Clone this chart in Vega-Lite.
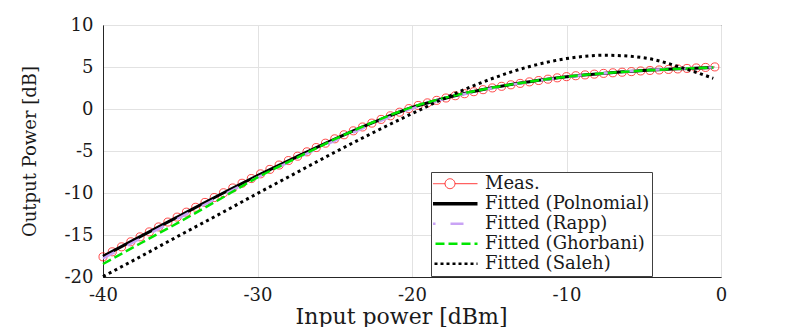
{
  "$schema": "https://vega.github.io/schema/vega-lite/v6.json",
  "width": 618,
  "height": 252,
  "autosize": {"type": "none"},
  "padding": {"left": 103, "top": 25, "right": 76, "bottom": 50},
  "background": "white",
  "config": {
    "font": "DejaVu Serif",
    "view": {"stroke": "#262626", "strokeWidth": 1},
    "axis": {
      "labelFont": "DejaVu Serif",
      "labelFontSize": 18,
      "labelColor": "#1a1a1a",
      "labelFlush": false,
      "titleFont": "DejaVu Serif",
      "titleFontWeight": "normal",
      "titleColor": "#1a1a1a",
      "grid": true,
      "gridColor": "#e2e2e2",
      "gridWidth": 1,
      "domainColor": "#262626",
      "tickColor": "#262626",
      "ticks": false,
      "labelExpr": "'' + datum.value"
    }
  },
  "datasets": {
    "meas": [
      {"series": "Meas.", "x": -40.0, "y": -17.60},
      {"series": "Meas.", "x": -39.4, "y": -17.00},
      {"series": "Meas.", "x": -38.8, "y": -16.41},
      {"series": "Meas.", "x": -38.2, "y": -15.81},
      {"series": "Meas.", "x": -37.6, "y": -15.22},
      {"series": "Meas.", "x": -37.0, "y": -14.63},
      {"series": "Meas.", "x": -36.4, "y": -14.04},
      {"series": "Meas.", "x": -35.8, "y": -13.46},
      {"series": "Meas.", "x": -35.2, "y": -12.87},
      {"series": "Meas.", "x": -34.6, "y": -12.28},
      {"series": "Meas.", "x": -34.0, "y": -11.70},
      {"series": "Meas.", "x": -33.4, "y": -11.12},
      {"series": "Meas.", "x": -32.8, "y": -10.54},
      {"series": "Meas.", "x": -32.2, "y": -9.97},
      {"series": "Meas.", "x": -31.6, "y": -9.40},
      {"series": "Meas.", "x": -31.0, "y": -8.84},
      {"series": "Meas.", "x": -30.4, "y": -8.28},
      {"series": "Meas.", "x": -29.8, "y": -7.72},
      {"series": "Meas.", "x": -29.2, "y": -7.19},
      {"series": "Meas.", "x": -28.6, "y": -6.67},
      {"series": "Meas.", "x": -28.0, "y": -6.14},
      {"series": "Meas.", "x": -27.4, "y": -5.62},
      {"series": "Meas.", "x": -26.8, "y": -5.10},
      {"series": "Meas.", "x": -26.2, "y": -4.59},
      {"series": "Meas.", "x": -25.6, "y": -4.07},
      {"series": "Meas.", "x": -25.0, "y": -3.55},
      {"series": "Meas.", "x": -24.4, "y": -3.07},
      {"series": "Meas.", "x": -23.8, "y": -2.60},
      {"series": "Meas.", "x": -23.2, "y": -2.14},
      {"series": "Meas.", "x": -22.6, "y": -1.68},
      {"series": "Meas.", "x": -22.0, "y": -1.24},
      {"series": "Meas.", "x": -21.4, "y": -0.81},
      {"series": "Meas.", "x": -20.8, "y": -0.38},
      {"series": "Meas.", "x": -20.2, "y": 0.05},
      {"series": "Meas.", "x": -19.6, "y": 0.42},
      {"series": "Meas.", "x": -19.0, "y": 0.73},
      {"series": "Meas.", "x": -18.4, "y": 1.03},
      {"series": "Meas.", "x": -17.8, "y": 1.31},
      {"series": "Meas.", "x": -17.2, "y": 1.58},
      {"series": "Meas.", "x": -16.6, "y": 1.82},
      {"series": "Meas.", "x": -16.0, "y": 2.06},
      {"series": "Meas.", "x": -15.4, "y": 2.30},
      {"series": "Meas.", "x": -14.8, "y": 2.51},
      {"series": "Meas.", "x": -14.2, "y": 2.70},
      {"series": "Meas.", "x": -13.6, "y": 2.88},
      {"series": "Meas.", "x": -13.0, "y": 3.05},
      {"series": "Meas.", "x": -12.4, "y": 3.23},
      {"series": "Meas.", "x": -11.8, "y": 3.39},
      {"series": "Meas.", "x": -11.2, "y": 3.55},
      {"series": "Meas.", "x": -10.6, "y": 3.71},
      {"series": "Meas.", "x": -10.0, "y": 3.85},
      {"series": "Meas.", "x": -9.4, "y": 3.96},
      {"series": "Meas.", "x": -8.8, "y": 4.06},
      {"series": "Meas.", "x": -8.2, "y": 4.15},
      {"series": "Meas.", "x": -7.6, "y": 4.24},
      {"series": "Meas.", "x": -7.0, "y": 4.31},
      {"series": "Meas.", "x": -6.4, "y": 4.38},
      {"series": "Meas.", "x": -5.8, "y": 4.45},
      {"series": "Meas.", "x": -5.2, "y": 4.53},
      {"series": "Meas.", "x": -4.6, "y": 4.59},
      {"series": "Meas.", "x": -4.0, "y": 4.65},
      {"series": "Meas.", "x": -3.4, "y": 4.71},
      {"series": "Meas.", "x": -2.8, "y": 4.77},
      {"series": "Meas.", "x": -2.2, "y": 4.83},
      {"series": "Meas.", "x": -1.6, "y": 4.89},
      {"series": "Meas.", "x": -1.0, "y": 4.95},
      {"series": "Meas.", "x": -0.4, "y": 5.01}
    ],
    "fits": [
      {"series": "Fitted (Polnomial)", "x": -40, "y": -17.55},
      {"series": "Fitted (Polnomial)", "x": -37.5, "y": -15.10},
      {"series": "Fitted (Polnomial)", "x": -35, "y": -12.68},
      {"series": "Fitted (Polnomial)", "x": -32.5, "y": -10.27},
      {"series": "Fitted (Polnomial)", "x": -30, "y": -7.93},
      {"series": "Fitted (Polnomial)", "x": -27.5, "y": -5.72},
      {"series": "Fitted (Polnomial)", "x": -25, "y": -3.58},
      {"series": "Fitted (Polnomial)", "x": -22.5, "y": -1.60},
      {"series": "Fitted (Polnomial)", "x": -20, "y": 0.18},
      {"series": "Fitted (Polnomial)", "x": -17.5, "y": 1.45},
      {"series": "Fitted (Polnomial)", "x": -15, "y": 2.47},
      {"series": "Fitted (Polnomial)", "x": -12.5, "y": 3.22},
      {"series": "Fitted (Polnomial)", "x": -10, "y": 3.84},
      {"series": "Fitted (Polnomial)", "x": -7.5, "y": 4.27},
      {"series": "Fitted (Polnomial)", "x": -5, "y": 4.58},
      {"series": "Fitted (Polnomial)", "x": -2.5, "y": 4.80},
      {"series": "Fitted (Polnomial)", "x": -0.5, "y": 4.95},
      {"series": "Fitted (Rapp)", "x": -40, "y": -17.80},
      {"series": "Fitted (Rapp)", "x": -37.5, "y": -15.35},
      {"series": "Fitted (Rapp)", "x": -35, "y": -12.90},
      {"series": "Fitted (Rapp)", "x": -32.5, "y": -10.50},
      {"series": "Fitted (Rapp)", "x": -30, "y": -8.15},
      {"series": "Fitted (Rapp)", "x": -27.5, "y": -5.92},
      {"series": "Fitted (Rapp)", "x": -25, "y": -3.78},
      {"series": "Fitted (Rapp)", "x": -22.5, "y": -1.78},
      {"series": "Fitted (Rapp)", "x": -20, "y": 0.05},
      {"series": "Fitted (Rapp)", "x": -17.5, "y": 1.38},
      {"series": "Fitted (Rapp)", "x": -15, "y": 2.42},
      {"series": "Fitted (Rapp)", "x": -12.5, "y": 3.20},
      {"series": "Fitted (Rapp)", "x": -10, "y": 3.82},
      {"series": "Fitted (Rapp)", "x": -7.5, "y": 4.27},
      {"series": "Fitted (Rapp)", "x": -5, "y": 4.60},
      {"series": "Fitted (Rapp)", "x": -2.5, "y": 4.82},
      {"series": "Fitted (Rapp)", "x": -0.5, "y": 4.95},
      {"series": "Fitted (Ghorbani)", "x": -40, "y": -18.45},
      {"series": "Fitted (Ghorbani)", "x": -37.5, "y": -15.92},
      {"series": "Fitted (Ghorbani)", "x": -35, "y": -13.40},
      {"series": "Fitted (Ghorbani)", "x": -32.5, "y": -10.80},
      {"series": "Fitted (Ghorbani)", "x": -30, "y": -8.15},
      {"series": "Fitted (Ghorbani)", "x": -27.5, "y": -5.85},
      {"series": "Fitted (Ghorbani)", "x": -25, "y": -3.60},
      {"series": "Fitted (Ghorbani)", "x": -22.5, "y": -1.55},
      {"series": "Fitted (Ghorbani)", "x": -20, "y": 0.22},
      {"series": "Fitted (Ghorbani)", "x": -17.5, "y": 1.50},
      {"series": "Fitted (Ghorbani)", "x": -15, "y": 2.48},
      {"series": "Fitted (Ghorbani)", "x": -12.5, "y": 3.22},
      {"series": "Fitted (Ghorbani)", "x": -10, "y": 3.84},
      {"series": "Fitted (Ghorbani)", "x": -7.5, "y": 4.27},
      {"series": "Fitted (Ghorbani)", "x": -5, "y": 4.58},
      {"series": "Fitted (Ghorbani)", "x": -2.5, "y": 4.80},
      {"series": "Fitted (Ghorbani)", "x": -0.5, "y": 4.95},
      {"series": "Fitted (Saleh)", "x": -40, "y": -19.95},
      {"series": "Fitted (Saleh)", "x": -37.5, "y": -17.50},
      {"series": "Fitted (Saleh)", "x": -35, "y": -15.00},
      {"series": "Fitted (Saleh)", "x": -32.5, "y": -12.55},
      {"series": "Fitted (Saleh)", "x": -30, "y": -10.05},
      {"series": "Fitted (Saleh)", "x": -27.5, "y": -7.60},
      {"series": "Fitted (Saleh)", "x": -25, "y": -5.15},
      {"series": "Fitted (Saleh)", "x": -22.5, "y": -2.80},
      {"series": "Fitted (Saleh)", "x": -20, "y": -0.55},
      {"series": "Fitted (Saleh)", "x": -17.5, "y": 1.60},
      {"series": "Fitted (Saleh)", "x": -15, "y": 3.50},
      {"series": "Fitted (Saleh)", "x": -12.5, "y": 5.00},
      {"series": "Fitted (Saleh)", "x": -10, "y": 6.00},
      {"series": "Fitted (Saleh)", "x": -7.5, "y": 6.40},
      {"series": "Fitted (Saleh)", "x": -5, "y": 6.10},
      {"series": "Fitted (Saleh)", "x": -2.5, "y": 4.90},
      {"series": "Fitted (Saleh)", "x": -1.5, "y": 4.30},
      {"series": "Fitted (Saleh)", "x": -0.5, "y": 3.65}
    ]
  },
  "encoding": {
    "x": {
      "field": "x", "type": "quantitative",
      "scale": {"domain": [-40, 0], "nice": false, "zero": false},
      "axis": {"title": "Input power [dBm]", "titleFontSize": 22, "titleX": 298, "values": [-40, -30, -20, -10, 0], "labelPadding": 9, "titlePadding": 2}
    },
    "y": {
      "field": "y", "type": "quantitative",
      "scale": {"domain": [-20, 10], "nice": false, "zero": false},
      "axis": {"title": "Output Power [dB]", "titleFontSize": 18, "values": [-20, -15, -10, -5, 0, 5, 10], "labelPadding": 10, "titlePadding": 25}
    },
    "color": {
      "field": "series", "type": "nominal",
      "scale": {
        "domain": ["Meas.", "Fitted (Polnomial)", "Fitted (Rapp)", "Fitted (Ghorbani)", "Fitted (Saleh)"],
        "range": ["#ff0000", "#000000", "#c9a3f5", "#00e600", "#000000"]
      },
      "legend": {
        "title": null,
        "orient": "none",
        "legendX": 328,
        "legendY": 147,
        "direction": "vertical",
        "labelFont": "DejaVu Serif",
        "labelFontSize": 18,
        "labelLimit": 400,
        "labelColor": "#1a1a1a",
        "labelBaseline": "middle",
        "symbolSize": 3025,
        "symbolType": "stroke",
        "symbolOffset": 8,
        "labelOffset": 26,
        "clipHeight": 19.4,
        "rowPadding": 0,
        "padding": 2,
        "strokeColor": "#404040",
        "fillColor": "white",
        "symbolStrokeWidth": 2.5,
        "encode": {
          "symbols": {
            "update": {
              "shape": {"signal": "datum.value === 'Meas.' ? 'M-1,0H-0.18M0.18,0H1M-0.18,0A0.18,0.18,0,1,1,0.18,0A0.18,0.18,0,1,1,-0.18,0' : 'stroke'"},
              "strokeDash": {"signal": "datum.value === 'Fitted (Rapp)' ? [13,15] : datum.value === 'Fitted (Ghorbani)' ? [9,4] : datum.value === 'Fitted (Saleh)' ? [3,3] : [1,0]"},
              "strokeWidth": {"signal": "datum.value === 'Meas.' ? 0.8 : datum.value === 'Fitted (Polnomial)' ? 3.5 : 2.5"},
              "fill": {"value": "transparent"},
              "opacity": {"value": 1}
            }
          }
        }
      }
    }
  },
  "layer": [
    {
      "data": {"name": "meas"},
      "mark": {"type": "line", "strokeWidth": 0.7}
    },
    {
      "data": {"name": "meas"},
      "mark": {"type": "point", "shape": "circle", "filled": false, "size": 65, "strokeWidth": 0.7, "opacity": 1}
    },
    {
      "data": {"name": "fits"},
      "transform": [{"filter": "datum.series === 'Fitted (Polnomial)'"}],
      "mark": {"type": "line", "strokeWidth": 3, "interpolate": "monotone"}
    },
    {
      "data": {"name": "fits"},
      "transform": [{"filter": "datum.series === 'Fitted (Rapp)'"}],
      "mark": {"type": "line", "strokeWidth": 2.5, "strokeDash": [13, 15], "interpolate": "monotone"}
    },
    {
      "data": {"name": "fits"},
      "transform": [{"filter": "datum.series === 'Fitted (Ghorbani)'"}],
      "mark": {"type": "line", "strokeWidth": 2.5, "strokeDash": [9, 4], "interpolate": "monotone"}
    },
    {
      "data": {"name": "fits"},
      "transform": [{"filter": "datum.series === 'Fitted (Saleh)'"}],
      "mark": {"type": "line", "strokeWidth": 3, "strokeDash": [3, 3.5], "interpolate": "monotone"}
    }
  ]
}
